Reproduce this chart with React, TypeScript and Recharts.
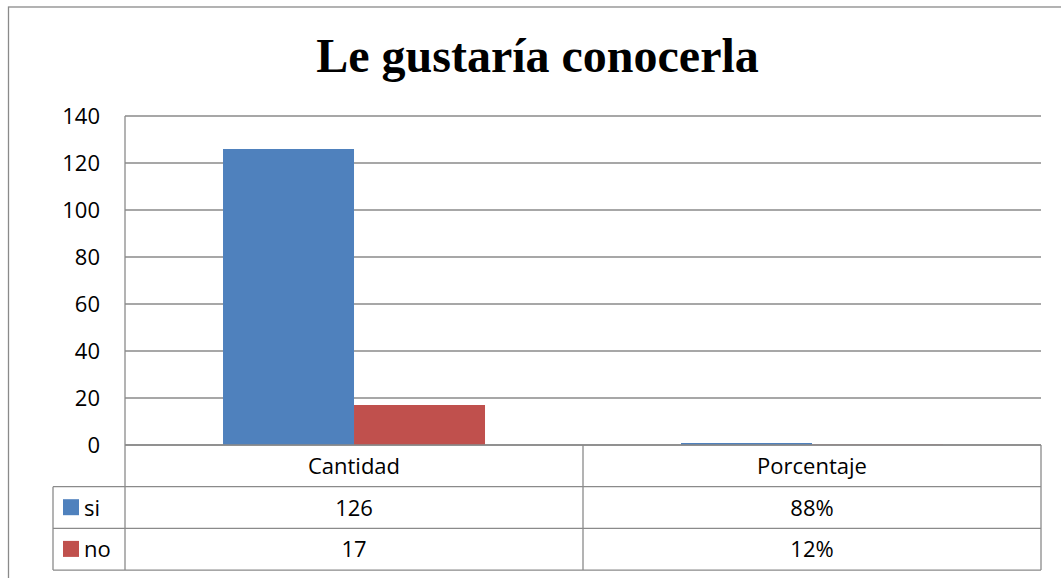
import React from 'react';
import { BarChart, Bar, XAxis, YAxis, CartesianGrid } from 'recharts';

const categories = ['Cantidad', 'Porcentaje'];
const siValues = [126, 0.88];
const noValues = [17, 0.12];
const seriesNames = ['si', 'no'];
const seriesColors = ['#4F81BD', '#C0504D'];
const yTicks = [0, 20, 40, 60, 80, 100, 120, 140];
const title = 'Le gustaría conocerla';

const data = categories.map((c, i) => ({ name: c, si: siValues[i], no: noValues[i] }));

const W = 1061;
const H = 578;
const PLOT_LEFT = 125;
const PLOT_RIGHT = 1041;
const PLOT_TOP = 116;
const PLOT_BOTTOM = 445;
const ROW_H = 41.7;
const LEGEND_LEFT = 53;
const FONT = '"Open Sans", sans-serif';
const GRID = '#8a8a8a';

const fmt = (catIndex: number, v: number) =>
  catIndex === 1 ? `${Math.round(v * 100)}%` : String(v);

const TableTick = (props: any) => {
  const { x, y, payload, index } = props;
  const band = (PLOT_RIGHT - PLOT_LEFT) / categories.length;
  const y0 = PLOT_BOTTOM;
  const idx = typeof index === 'number' ? index : categories.indexOf(payload.value);
  return (
    <g>
      <line x1={x + band / 2} x2={x + band / 2} y1={y0} y2={y0 + ROW_H * 3} stroke={GRID} strokeWidth={1.3} />
      <text x={x} y={y0 + 29} textAnchor="middle" fontFamily={FONT} fontSize={22} fill="#000">
        {payload.value}
      </text>
      <text x={x} y={y0 + ROW_H + 29} textAnchor="middle" fontFamily={FONT} fontSize={22} fill="#000">
        {fmt(idx, siValues[idx])}
      </text>
      <text x={x} y={y0 + ROW_H * 2 + 29} textAnchor="middle" fontFamily={FONT} fontSize={22} fill="#000">
        {fmt(idx, noValues[idx])}
      </text>
    </g>
  );
};

export default function App() {
  const tableBottom = PLOT_BOTTOM + ROW_H * 3;
  return (
    <div style={{ position: 'absolute', left: 0, top: 0, width: W, height: H, background: '#fff', overflow: 'hidden' }}>
      <BarChart
        width={W}
        height={H}
        data={data}
        margin={{ top: PLOT_TOP, right: W - PLOT_RIGHT, bottom: H - tableBottom - 0, left: 0 }}
        barCategoryGap="21.4%"
        barGap={0}
      >
        <CartesianGrid vertical={false} stroke={GRID} strokeWidth={1.3} />
        <YAxis
          width={PLOT_LEFT}
          domain={[0, 140]}
          ticks={yTicks}
          interval={0}
          tickLine={false}
          tickSize={0}
          tickMargin={25}
          axisLine={{ stroke: GRID, strokeWidth: 1.3 }}
          tick={{ fill: '#000', fontSize: 22, fontFamily: FONT }}
        />
        <XAxis
          dataKey="name"
          height={tableBottom - PLOT_BOTTOM}
          tickLine={false}
          tickSize={0}
          interval={0}
          axisLine={{ stroke: GRID, strokeWidth: 1.3 }}
          tick={<TableTick />}
        />
        <Bar dataKey="si" name="si" fill={seriesColors[0]} isAnimationActive={false} />
        <Bar dataKey="no" name="no" fill={seriesColors[1]} isAnimationActive={false} />
      </BarChart>
      <svg
        width={W}
        height={H}
        style={{ position: 'absolute', left: 0, top: 0, pointerEvents: 'none' }}
      >
        <rect x={8.5} y={7} width={W + 20} height={H + 20} fill="none" stroke={GRID} strokeWidth={1.3} />
        <text
          x={537.5}
          y={72}
          textAnchor="middle"
          fontFamily='"Liberation Serif", "Times New Roman", serif'
          fontWeight="bold"
          fontSize={48}
          fill="#000"
        >
          {title}
        </text>
        <line x1={PLOT_LEFT} x2={PLOT_LEFT} y1={PLOT_BOTTOM} y2={tableBottom} stroke={GRID} strokeWidth={1.3} />
        <line x1={LEGEND_LEFT} x2={LEGEND_LEFT} y1={PLOT_BOTTOM + ROW_H} y2={tableBottom} stroke={GRID} strokeWidth={1.3} />
        {[1, 2, 3].map((r) => (
          <line
            key={r}
            x1={LEGEND_LEFT}
            x2={PLOT_RIGHT}
            y1={PLOT_BOTTOM + ROW_H * r}
            y2={PLOT_BOTTOM + ROW_H * r}
            stroke={GRID}
            strokeWidth={1.3}
          />
        ))}
        {seriesNames.map((s, i) => (
          <g key={s}>
            <rect x={63} y={PLOT_BOTTOM + ROW_H * (i + 1) + 12.5} width={16} height={16} fill={seriesColors[i]} />
            <text x={84} y={PLOT_BOTTOM + ROW_H * (i + 1) + 29} fontFamily={FONT} fontSize={22} fill="#000">
              {s}
            </text>
          </g>
        ))}
      </svg>
    </div>
  );
}
